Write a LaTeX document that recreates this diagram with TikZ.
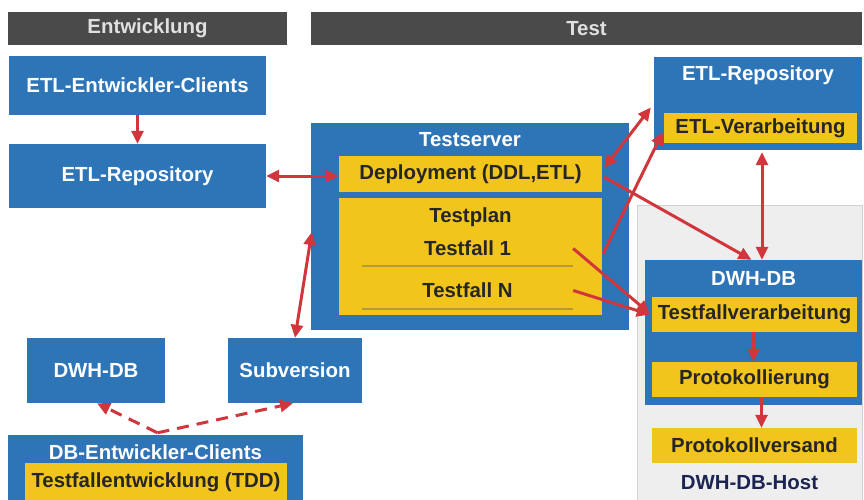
\documentclass[tikz,border=0pt]{standalone}
\usepackage{fontspec}
\setmainfont{Liberation Sans}
\usetikzlibrary{arrows.meta,calc,shadows}
\definecolor{bl}{HTML}{2E75B8}
\definecolor{yl}{HTML}{F2C51C}
\definecolor{hd}{HTML}{4A4A4A}
\definecolor{rd}{HTML}{D0363B}
\definecolor{gy}{HTML}{EEEEEE}
\definecolor{nv}{HTML}{1B2452}
\tikzset{
 cbox/.style={rectangle, inner sep=0pt, font=\bfseries\fontsize{20.4}{24}\selectfont},
 sz/.style 2 args={minimum width=#1pt, minimum height=#2pt},
 bluebox/.style={cbox, fill=bl, text=white},
 yelbox/.style={cbox, fill=yl, text=black!85},
 tfbox/.style={yelbox, drop shadow={shadow xshift=0pt, shadow yshift=-1.5pt, fill=black!60, opacity=0.45}},
 hdr/.style={cbox, fill=hd, text=white!88!black},
 lbl/.style={inner sep=0pt, font=\bfseries\fontsize{20.4}{24}\selectfont},
 tip/.tip={Triangle[length=13pt,width=12pt]},
 conn/.style={draw=rd, line width=3pt, -tip},
 dconn/.style={draw=rd, line width=3pt, tip-tip},
 dashconn/.style={conn, dash pattern=on 12pt off 8pt},
}
\begin{document}
\begin{tikzpicture}[x=1pt,y=-1pt]
\useasboundingbox (0,0) rectangle (864,500);
\clip (0,0) rectangle (864,500);
\fill[white] (0,0) rectangle (864,500);

% headers
\node[hdr, sz={279}{33}] (hdrE) at (147.5,28.5) {Entwicklung};
\node[hdr, sz={551}{33}] (hdrT) at (586.5,28.5) {Test};

% Entwicklung
\node[bluebox, sz={257}{59}] (etlClients) at (137.5,85.5) {ETL-Entwickler-Clients};
\node[bluebox, sz={257}{64}] (etlRepoL) at (137.5,176) {ETL-Repository};

% Testserver
\node[cbox, fill=bl, sz={318}{207}] (testserver) at (470,226.5) {};
\node[lbl, text=white] (tsT) at (470,140) {Testserver};
\node[yelbox, sz={263}{36}] (deploy) at (470.5,174) {Deployment (DDL,ETL)};
\node[cbox, fill=yl, sz={263}{117}] (testplan) at (470.5,256.5) {};
\node[lbl, text=black!85] (tpT) at (470.5,217) {Testplan};
\node[tfbox, sz={211}{33}] (tf1) at (467.5,248.5) {Testfall 1};
\node[tfbox, sz={211}{35}] (tfN) at (467.5,290.5) {Testfall N};

% ETL-Repository right
\node[cbox, fill=bl, sz={208}{93}] (etlRepoR) at (758,103.5) {};
\node[lbl, text=white] (erT) at (758,75) {ETL-Repository};
\node[yelbox, sz={193}{30}] (etlVer) at (760.5,128) {ETL-Verarbeitung};

% DWH-DB-Host
\node[cbox, fill=gy, draw=black!18, line width=0.8pt, sz={225}{297}] (host) at (749.5,353.5) {};
\node[lbl, text=nv] (hostT) at (749.5,483) {DWH-DB-Host};
\node[cbox, fill=bl, sz={217}{145}] (dwhR) at (753.5,332.5) {};
\node[lbl, text=white] (dwhRT) at (753.5,278) {DWH-DB};
\node[yelbox, sz={205}{35}] (tfv) at (754.5,314.5) {Testfallverarbeitung};
\node[yelbox, sz={205}{35}] (prot) at (754.5,379.5) {Protokollierung};
\node[yelbox, sz={205}{35}] (protv) at (754.5,445.5) {Protokollversand};

% bottom left
\node[bluebox, sz={138}{65}] (dwhL) at (96,370.5) {DWH-DB};
\node[bluebox, sz={134}{65}] (svn) at (295,370.5) {Subversion};
\node[cbox, fill=bl, sz={295}{67}] (dbClients) at (155.5,468.5) {};
\node[lbl, text=white] (dbcT) at (155.5,452) {DB-Entwickler-Clients};
\node[yelbox, sz={262}{39}] (tdd) at (156,482.5) {Testfallentwicklung (TDD)};

% connectors
\draw[conn] (etlClients.south) -- (etlRepoL.north);
\draw[dconn] (etlRepoL.east) -- (etlRepoL.east -| deploy.west);
\draw[dconn] ($(testserver.west)+(1,5.5)$) -- (svn.north);
\draw[dconn] ($(deploy.east)+(2,-6)$) -- ($(etlRepoR.west)+(-3,4)$);
\draw[conn] ($(testplan.east)+(1,-3)$) -- ($(etlVer.west)+(-1,4)$);
\draw[conn] ($(deploy.east)+(2,3)$) -- ($(dwhR.north)+(-2,0)$);
\coordinate (erB) at ($(etlRepoR.south)+(4,2)$);
\draw[dconn] (erB) -- (erB |- dwhR.north);
\draw[conn] (tf1.east) -- ($(tfv.west)+(-2,-1)$);
\draw[conn] (tfN.east) -- ($(tfv.west)+(-2,0)$);
\draw[conn] ($(tfv.south)+(-1,0)$) -- ($(prot.north)+(-1,0)$);
\draw[conn] ($(prot.south)+(7,0)$) -- ($(protv.north)+(7,0)$);
\coordinate (junc) at ($(dbClients.north)+(2,-2)$);
\draw[dashconn] (junc) -- ($(dwhL.south)+(1,0)$);
\draw[dashconn] (junc) -- ($(svn.south)+(-2,0)$);
\end{tikzpicture}
\end{document}
